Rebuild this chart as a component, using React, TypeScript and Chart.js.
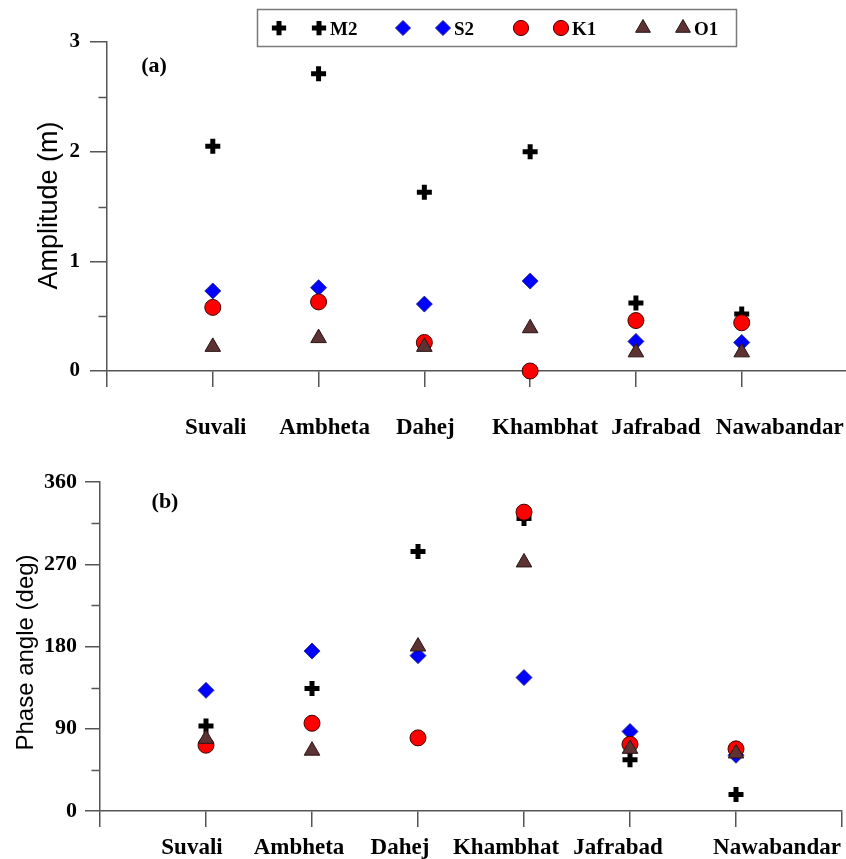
import React, { useEffect, useRef } from 'react';
import { Chart, registerables } from 'chart.js';
import { drawPoint } from 'chart.js/helpers';

Chart.register(...registerables);

// ---------------- data ----------------
const categories = ['Suvali', 'Ambheta', 'Dahej', 'Khambhat', 'Jafrabad', 'Nawabandar'];
const seriesNames = ['M2', 'S2', 'K1', 'O1'];

const ampM2 = [2.05, 2.71, 1.63, 2.0, 0.62, 0.52];
const ampS2 = [0.73, 0.76, 0.61, 0.82, 0.27, 0.26];
const ampK1 = [0.58, 0.63, 0.26, 0.0, 0.46, 0.44];
const ampO1 = [0.22, 0.3, 0.22, 0.39, 0.17, 0.17];

const phaseM2 = [93, 134, 284, 320, 56, 18];
const phaseS2 = [132, 175, 170, 146, 87, 61];
const phaseK1 = [72, 96, 80, 327, 73, 68];
const phaseO1 = [79, 66, 180, 272, 68, 63];

const ampTickValues = [0, 1, 2, 3];
const phaseTickValues = [0, 90, 180, 270, 360];

// ---------------- styles ----------------
const AXIS = '#555555';
const SERIF = '"Liberation Serif", "Times New Roman", serif';
const SANS = '"Liberation Sans", Arial, sans-serif';

const markerStyles: Record<string, any> = {
  M2: { pointStyle: 'cross', radius: 7.5, bg: '#000000', border: '#000000', bw: 5, order: 4 },
  S2: { pointStyle: 'rectRot', radius: 8, bg: '#0000ff', border: '#1a1a80', bw: 0.8, order: 3 },
  K1: { pointStyle: 'circle', radius: 8, bg: '#ff0000', border: '#400000', bw: 1, order: 2 },
  O1: { pointStyle: 'triangle', radius: 9, bg: '#5c3232', border: '#2a1414', bw: 1, order: 1 },
};

function makeDatasets(values: number[][]) {
  return seriesNames.map((name, si) => {
    const s = markerStyles[name];
    return {
      label: name,
      data: values[si].map((v, i) => ({ x: i + 1, y: v })),
      pointStyle: s.pointStyle,
      pointRadius: s.radius,
      pointHoverRadius: s.radius,
      pointBackgroundColor: s.bg,
      pointBorderColor: s.border,
      pointBorderWidth: s.bw,
      backgroundColor: s.bg,
      borderColor: s.border,
      showLine: false,
      order: s.order,
      clip: false as any,
    };
  });
}

function drawMarker(ctx: CanvasRenderingContext2D, name: string, x: number, y: number, scale = 1) {
  const s = markerStyles[name];
  ctx.save();
  ctx.fillStyle = s.bg;
  ctx.strokeStyle = s.border;
  ctx.lineWidth = s.bw;
  drawPoint(ctx, { pointStyle: s.pointStyle, radius: s.radius * scale, borderWidth: s.bw, rotation: 0 } as any, x, y);
  ctx.restore();
}

const legendPlugin = {
  id: 'customLegend',
  afterDraw(chart: any) {
    const ctx = chart.ctx as CanvasRenderingContext2D;
    ctx.save();
    ctx.fillStyle = '#ffffff';
    ctx.fillRect(257.5, 9.5, 479, 37);
    ctx.strokeStyle = '#7a7a7a';
    ctx.lineWidth = 1.5;
    ctx.strokeRect(257.5, 9.5, 479, 37);
    const firstX = [279, 403, 521, 643];
    const cy = 28;
    ctx.font = `bold 19px ${SERIF}`;
    ctx.fillStyle = '#000';
    ctx.textBaseline = 'alphabetic';
    ctx.textAlign = 'left';
    seriesNames.forEach((name, i) => {
      drawMarker(ctx, name, firstX[i], cy, 0.95);
      drawMarker(ctx, name, firstX[i] + 40, cy, 0.95);
      ctx.fillStyle = '#000';
      ctx.fillText(name, firstX[i] + 51, 35);
    });
    ctx.restore();
  },
};

function panelPlugin(p: any) {
  return {
    id: 'panel' + p.tag,
    afterDraw(chart: any) {
      const ctx = chart.ctx as CanvasRenderingContext2D;
      const xs = chart.scales.x;
      const ys = chart.scales.y;
      const ca = chart.chartArea;
      ctx.save();
      // minor ticks
      ctx.strokeStyle = AXIS;
      ctx.lineWidth = 1.5;
      for (let v = p.step / 2; v < p.max; v += p.step) {
        const y = Math.round(ys.getPixelForValue(v)) + 0.5;
        ctx.beginPath();
        ctx.moveTo(ca.left - p.minorLen, y);
        ctx.lineTo(ca.left, y);
        ctx.stroke();
      }
      // category labels
      ctx.font = `bold ${p.catSize}px ${SERIF}`;
      ctx.fillStyle = '#000';
      ctx.textAlign = 'center';
      ctx.textBaseline = 'alphabetic';
      categories.forEach((c, i) => {
        ctx.fillText(c, xs.getPixelForValue(i + 1) + p.nudge[i], ca.bottom + p.labelBaseline);
      });
      // panel tag
      ctx.font = `bold 22px ${SERIF}`;
      ctx.textBaseline = 'middle';
      ctx.fillText(p.tag, ca.left + p.tagDx, ca.top + p.tagDy);
      // y axis title
      ctx.save();
      ctx.translate(p.titleX, (ca.top + ca.bottom) / 2 + p.titleDy);
      ctx.rotate(-Math.PI / 2);
      ctx.font = `${p.titleSize}px ${SANS}`;
      ctx.textAlign = 'center';
      ctx.textBaseline = 'middle';
      ctx.fillText(p.title, 0, 0);
      ctx.restore();
      ctx.restore();
    },
  };
}

function buildConfig(opts: any) {
  return {
    type: 'scatter' as const,
    data: { datasets: makeDatasets(opts.values) },
    options: {
      responsive: false,
      animation: false as const,
      events: [] as any[],
      layout: { padding: { left: 0, top: opts.padTop, right: opts.padRight, bottom: 0 } },
      plugins: { legend: { display: false }, tooltip: { enabled: false }, title: { display: false } },
      scales: {
        x: {
          type: 'linear' as const,
          min: 0,
          max: 7,
          ticks: { stepSize: 1, autoSkip: false, maxRotation: 0, callback: () => '' },
          grid: { drawOnChartArea: false, drawTicks: true, tickLength: 16, color: AXIS, lineWidth: 1.5 },
          border: { display: true, color: AXIS, width: 1.5 },
          afterFit: (scale: any) => {
            scale.height = opts.xHeight;
          },
        },
        y: {
          type: 'linear' as const,
          min: 0,
          max: opts.yMax,
          afterBuildTicks: (scale: any) => {
            scale.ticks = opts.yTicks.map((v: number) => ({ value: v }));
          },
          ticks: {
            stepSize: opts.yStep,
            color: '#000',
            padding: opts.yPad,
            font: { family: SERIF, size: opts.ySize, weight: 'bold' as const },
            callback: (v: any) => String(v),
          },
          grid: { drawOnChartArea: false, drawTicks: true, tickLength: opts.majorLen, color: AXIS, lineWidth: 1.5 },
          border: { display: true, color: AXIS, width: 1.5 },
          afterFit: (scale: any) => {
            scale.width = opts.yWidth;
          },
        },
      },
    },
    plugins: opts.plugins,
  };
}

export default function App() {
  const refA = useRef<HTMLCanvasElement>(null);
  const refB = useRef<HTMLCanvasElement>(null);

  useEffect(() => {
    const cfgA = buildConfig({
      values: [ampM2, ampS2, ampK1, ampO1],
      padTop: 42,
      padRight: 11,
      xHeight: 69,
      yMax: 3,
      yStep: 1,
      yTicks: ampTickValues,
      yPad: 10,
      ySize: 21,
      majorLen: 17,
      yWidth: 107,
      plugins: [
        panelPlugin({
          tag: '(a)', step: 1, max: 3, minorLen: 8.5, catSize: 23,
          nudge: [3, 6, 1, 15, 20, 38], labelBaseline: 62.5,
          tagDx: 47, tagDy: 24, title: 'Amplitude (m)', titleX: 50, titleDy: -1, titleSize: 27,
        }),
        legendPlugin,
      ],
    });
    const cfgB = buildConfig({
      values: [phaseM2, phaseS2, phaseK1, phaseO1],
      padTop: 42,
      padRight: 18,
      xHeight: 48,
      yMax: 360,
      yStep: 90,
      yTicks: phaseTickValues,
      yPad: 8,
      ySize: 22,
      majorLen: 15,
      yWidth: 100,
      plugins: [
        panelPlugin({
          tag: '(b)', step: 90, max: 360, minorLen: 8.5, catSize: 23,
          nudge: [-14, -13, -18, -18, -12, 41], labelBaseline: 43,
          tagDx: 65, tagDy: 20, title: 'Phase angle (deg)', titleX: 26, titleDy: 6, titleSize: 24,
        }),
      ],
    });
    const a = new Chart(refA.current as HTMLCanvasElement, cfgA as any);
    const b = new Chart(refB.current as HTMLCanvasElement, cfgB as any);
    return () => {
      a.destroy();
      b.destroy();
    };
  }, []);

  return (
    <div style={{ position: 'absolute', left: 0, top: 0, width: 846, height: 859, overflow: 'hidden', background: '#ffffff' }}>
      <canvas ref={refA} width={860} height={440} style={{ position: 'absolute', left: 0, top: 0, width: 860, height: 440 }} />
      <canvas ref={refB} width={860} height={419} style={{ position: 'absolute', left: 0, top: 440, width: 860, height: 419 }} />
    </div>
  );
}
